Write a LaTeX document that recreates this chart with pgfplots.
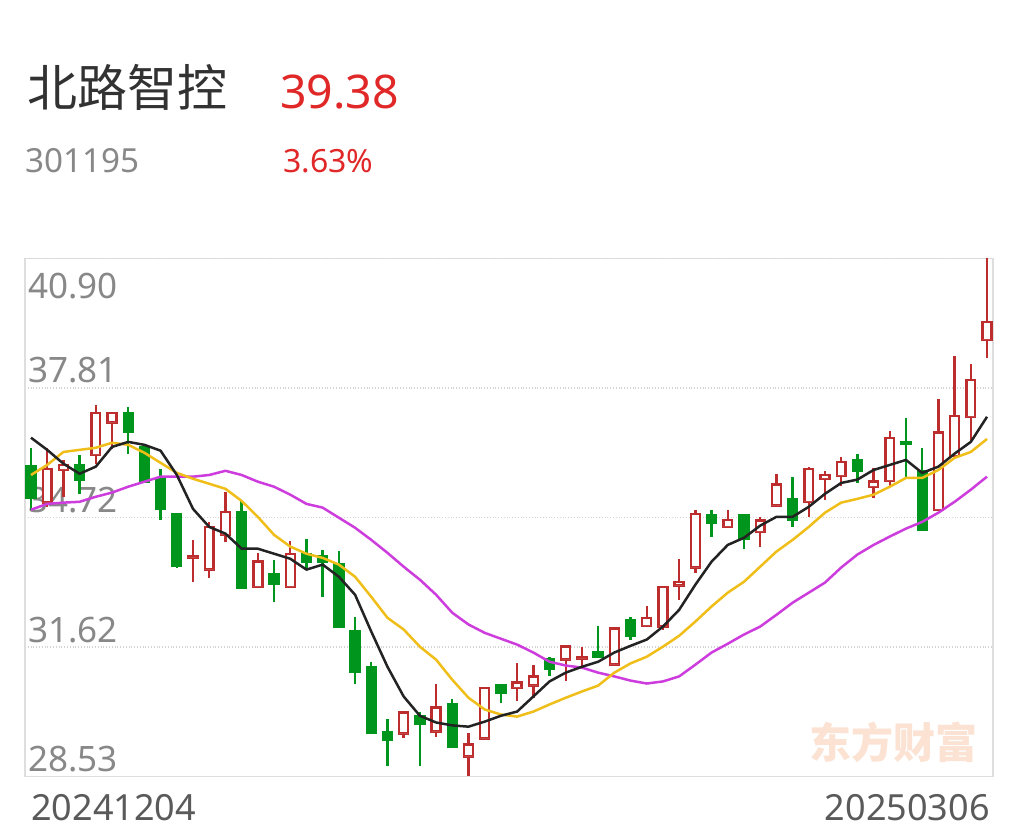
\documentclass[border=0pt]{standalone}
\usepackage{fontspec}
\setmainfont{Noto Sans}
\newfontfamily\cjk{Noto Sans CJK SC}
\usepackage{pgfplots}
\usepackage{pgfplotstable}
\pgfplotsset{compat=1.18}
\usepgfplotslibrary{statistics}

\definecolor{upc}{RGB}{190,45,45}
\definecolor{dnc}{RGB}{0,150,30}
\definecolor{ma5c}{RGB}{35,35,35}
\definecolor{ma10c}{RGB}{240,190,25}
\definecolor{ma20c}{RGB}{205,60,220}
\definecolor{pricec}{RGB}{225,40,40}
\definecolor{framec}{RGB}{222,222,222}
\definecolor{gridc}{RGB}{212,212,212}
\definecolor{tickc}{RGB}{136,136,136}
\definecolor{datec}{RGB}{90,90,90}
\definecolor{namec}{RGB}{50,50,50}
\definecolor{wmc}{RGB}{251,226,210}

% candle: index, open, high, low, close
\newcommand\up[5]{\addplot[upc, line width=1.2pt, fill=white,
  boxplot prepared={draw position=#1, lower whisker=#4, lower quartile=#2,
  median=#2, upper quartile=#5, upper whisker=#3}] coordinates {};}
\newcommand\dn[5]{\addplot[dnc, line width=1.2pt, fill=dnc,
  boxplot prepared={draw position=#1, lower whisker=#4, lower quartile=#5,
  median=#5, upper quartile=#2, upper whisker=#3}] coordinates {};}

% moving averages
\pgfplotstableread{
i ma5 ma10 ma20
0 36.62 35.73 34.90
1 36.33 35.97 35.04
2 36.00 36.28 35.07
3 35.76 36.33 35.09
4 35.93 36.38 35.21
5 36.40 36.50 35.31
6 36.52 36.45 35.45
7 36.45 36.26 35.57
8 36.31 36.02 35.69
9 35.73 35.78 35.69
10 34.92 35.64 35.69
11 34.49 35.52 35.73
12 34.33 35.40 35.83
13 33.97 35.11 35.73
14 33.97 34.73 35.57
15 33.85 34.30 35.45
16 33.73 34.02 35.26
17 33.47 33.85 35.04
18 33.59 33.75 34.95
19 33.30 33.59 34.71
20 32.87 33.30 34.47
21 31.99 32.82 34.18
22 31.15 32.32 33.87
23 30.44 32.04 33.54
24 29.98 31.63 33.23
25 29.82 31.32 32.87
26 29.75 30.84 32.44
27 29.72 30.41 32.16
28 29.84 30.13 31.96
29 29.98 30.01 31.82
30 30.08 29.96 31.68
31 30.44 30.08 31.49
32 30.80 30.25 31.27
33 31.01 30.41 31.18
34 31.15 30.56 31.13
35 31.27 30.70 31.01
36 31.49 31.01 30.92
37 31.65 31.23 30.82
38 31.80 31.39 30.75
39 32.11 31.63 30.80
40 32.51 31.89 30.92
41 33.11 32.23 31.20
42 33.66 32.59 31.49
43 34.06 32.92 31.70
44 34.23 33.18 31.92
45 34.52 33.54 32.11
46 34.73 33.90 32.39
47 34.73 34.18 32.68
48 34.97 34.49 32.92
49 35.28 34.83 33.16
50 35.54 35.07 33.52
51 35.62 35.16 33.83
52 35.85 35.26 34.06
53 35.97 35.45 34.26
54 36.09 35.66 34.45
55 35.78 35.66 34.61
56 35.93 35.85 34.83
57 36.24 36.14 35.09
58 36.52 36.28 35.38
59 37.12 36.59 35.69
}\ma

\begin{document}
\begin{tikzpicture}
\fill[white] (0,0) rectangle (510pt,419pt);

% header
\node[anchor=base west, inner sep=0pt, text=namec, font=\cjk\fontsize{25}{28}\selectfont] at (13.5pt,365.5pt) {北路智控};
\node[anchor=base west, inner sep=0pt, text=pricec, font=\fontsize{23.2}{28}\selectfont] at (140pt,364.5pt) {39.38};
\node[anchor=base west, inner sep=0pt, text=tickc, font=\fontsize{16.6}{19}\selectfont] at (12.5pt,332.5pt) {301195};
\node[anchor=base west, inner sep=0pt, text=pricec, font=\fontsize{16}{19}\selectfont] at (141.5pt,332.5pt) {3.63\%};

% watermark
\node[text=wmc, font=\cjk\bfseries\fontsize{21}{24}\selectfont] at (446.5pt,48pt) {东方财富};

\begin{axis}[
  at={(12.5pt,30.75pt)}, anchor=south west,
  scale only axis, width=484pt, height=259pt,
  xmin=-0.37, xmax=59.37, ymin=28.53, ymax=40.90,
  axis line style={draw=framec, line width=0.8pt},
  major tick length=0pt,
  ytick={28.53,31.62,34.72,37.81},
  yticklabels={28.53,31.62,34.72,37.81},
  extra y ticks={40.90}, extra y tick labels={40.90},
  extra y tick style={yticklabel style={anchor=north west, yshift=-9.25pt}},
  ymajorgrids, major grid style={gridc, densely dotted, line width=0.7pt},
  yticklabel style={anchor=south west, inner sep=0pt, xshift=1.5pt, yshift=2pt,
    font=\fontsize{17.5}{20}\selectfont, text=tickc},
  xtick={0}, xticklabels={20241204},
  extra x ticks={59}, extra x tick labels={20250306},
  extra x tick style={xticklabel style={anchor=north east, xshift=1.5pt}},
  xticklabel style={anchor=north west, inner sep=0pt, yshift=-9pt,
    font=\fontsize{18}{21}\selectfont, text=datec},
  boxplot/draw direction=y,
  boxplot/box extend=0.55, boxplot/whisker extend=0,
  boxplot/every median/.style={draw=none},
]
\dn{0}{35.93}{36.38}{34.90}{35.19}
\up{1}{35.07}{36.38}{34.97}{35.88}
\up{2}{35.85}{36.09}{35.21}{35.97}
\dn{3}{35.97}{36.21}{35.28}{35.62}
\up{4}{36.21}{37.40}{36.00}{37.21}
\up{5}{36.98}{37.21}{36.36}{37.21}
\dn{6}{37.21}{37.36}{36.24}{36.76}
\dn{7}{36.40}{36.45}{35.54}{35.57}
\dn{8}{35.62}{35.88}{34.66}{34.92}
\dn{9}{34.80}{34.80}{33.52}{33.56}
\up{10}{33.75}{34.18}{33.18}{33.80}
\up{11}{33.47}{34.61}{33.28}{34.49}
\up{12}{34.30}{35.33}{34.14}{34.85}
\dn{13}{34.83}{35.11}{33.04}{33.04}
\up{14}{33.06}{33.87}{33.04}{33.66}
\dn{15}{33.37}{33.71}{32.70}{33.13}
\up{16}{33.06}{34.16}{33.04}{33.85}
\dn{17}{33.85}{34.21}{33.52}{33.66}
\dn{18}{33.80}{33.95}{32.82}{33.66}
\dn{19}{33.61}{33.92}{32.11}{32.11}
\dn{20}{32.01}{32.35}{30.75}{31.03}
\dn{21}{31.13}{31.27}{29.58}{29.58}
\dn{22}{29.58}{29.91}{28.77}{29.41}
\up{23}{29.56}{30.06}{29.44}{30.06}
\dn{24}{29.96}{30.06}{28.79}{29.79}
\up{25}{29.60}{30.75}{29.48}{30.18}
\dn{26}{30.25}{30.39}{29.25}{29.25}
\up{27}{29.01}{29.56}{28.53}{29.29}
\up{28}{29.44}{30.65}{29.44}{30.65}
\dn{29}{30.70}{30.70}{30.29}{30.53}
\up{30}{30.65}{31.25}{30.34}{30.77}
\up{31}{30.70}{31.20}{30.41}{30.92}
\dn{32}{31.32}{31.39}{30.92}{31.11}
\up{33}{31.32}{31.63}{30.80}{31.63}
\up{34}{31.34}{31.63}{31.11}{31.39}
\dn{35}{31.51}{32.13}{31.39}{31.39}
\up{36}{31.20}{32.11}{31.20}{32.06}
\dn{37}{32.27}{32.35}{31.80}{31.89}
\up{38}{32.13}{32.59}{32.13}{32.32}
\up{39}{32.11}{33.06}{32.04}{33.06}
\up{40}{33.09}{33.73}{32.75}{33.18}
\up{41}{33.52}{34.90}{33.40}{34.80}
\dn{42}{34.78}{34.90}{34.26}{34.59}
\up{43}{34.49}{34.90}{34.49}{34.66}
\dn{44}{34.76}{34.76}{33.97}{34.21}
\up{45}{34.37}{34.73}{34.02}{34.64}
\up{46}{35.00}{35.76}{35.00}{35.50}
\dn{47}{35.16}{35.69}{34.49}{34.66}
\up{48}{35.09}{35.93}{34.73}{35.88}
\up{49}{35.64}{35.83}{35.14}{35.73}
\up{50}{35.71}{36.16}{35.47}{36.04}
\dn{51}{36.09}{36.24}{35.54}{35.83}
\up{52}{35.45}{35.90}{35.19}{35.57}
\up{53}{35.59}{36.78}{35.47}{36.62}
\dn{54}{36.52}{37.09}{35.64}{36.47}
\dn{55}{35.81}{36.38}{34.42}{34.42}
\up{56}{34.90}{37.55}{34.90}{36.74}
\up{57}{36.19}{38.57}{36.19}{37.14}
\up{58}{37.12}{38.38}{36.52}{38.00}
\up{59}{38.96}{40.90}{38.53}{39.38}

\addplot[ma20c, line width=1.25pt, line join=round, no marks] table[x=i, y=ma20] {\ma};
\addplot[ma10c, line width=1.25pt, line join=round, no marks] table[x=i, y=ma10] {\ma};
\addplot[ma5c, line width=1.25pt, line join=round, no marks] table[x=i, y=ma5] {\ma};
\end{axis}
\end{tikzpicture}
\end{document}
